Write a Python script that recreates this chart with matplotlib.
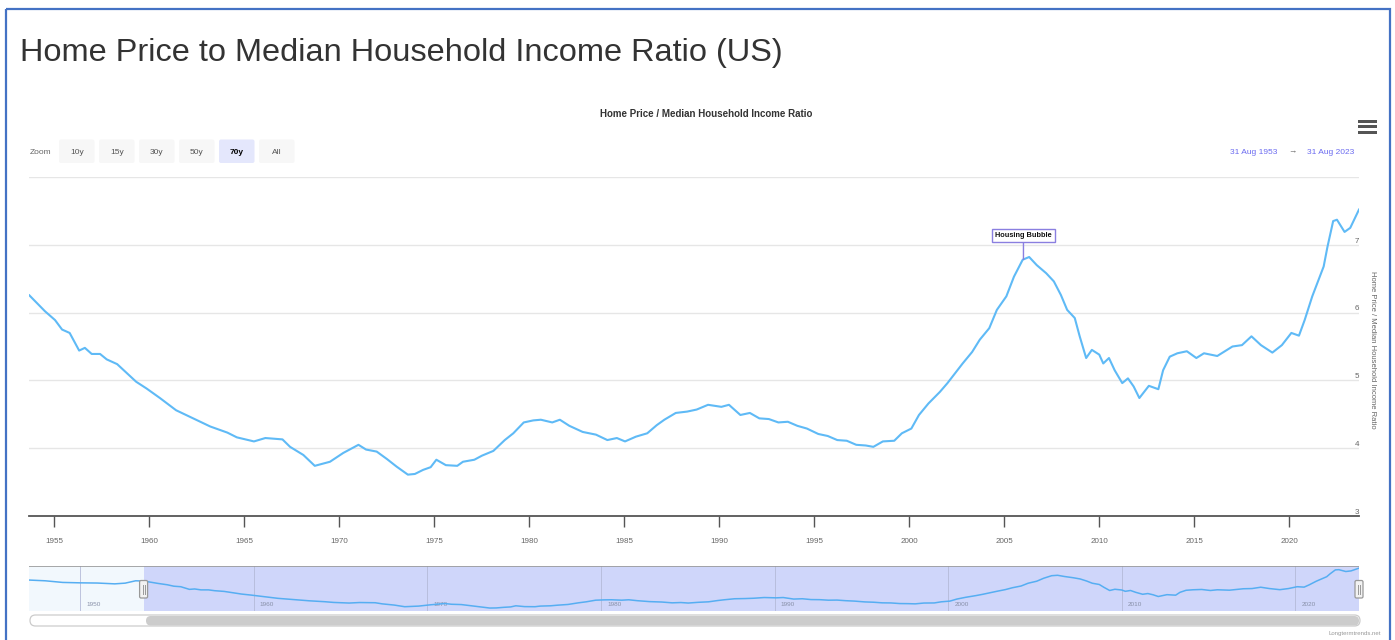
import numpy as np
import matplotlib
matplotlib.use("Agg")
import matplotlib.pyplot as plt
from matplotlib.patches import Rectangle, FancyBboxPatch
import matplotlib.transforms as mtransforms

plt.rcParams['font.family'] = ['Liberation Sans', 'DejaVu Sans']

# ---------------- data ----------------
years = [1947.1, 1948.0, 1949.0, 1950.0, 1951.0, 1952.0, 1952.6, 1953.2,
         1953.66, 1954.5, 1955.03, 1955.4, 1955.8, 1956.3, 1956.6, 1956.96, 1957.4, 1957.75,
         1958.3, 1958.8, 1959.3, 1959.85, 1960.55, 1961.4, 1962.3, 1963.2, 1964.1, 1964.6,
         1965.5, 1966.1, 1967.0, 1967.4, 1968.1, 1968.7, 1969.5, 1970.2, 1971.0, 1971.4,
         1971.96, 1972.5, 1973.0, 1973.6, 1973.97, 1974.4, 1974.8, 1975.1, 1975.6, 1976.2,
         1976.5, 1977.1, 1977.5, 1978.1, 1978.7, 1979.15, 1979.7, 1980.2, 1980.6, 1981.2,
         1981.6, 1982.1, 1982.8, 1983.5, 1984.1, 1984.6, 1985.03, 1985.6, 1986.2, 1986.7,
         1987.1, 1987.7, 1988.3, 1988.8, 1989.4, 1990.1, 1990.5, 1991.1, 1991.6, 1992.1,
         1992.6, 1993.1, 1993.6, 1994.1, 1994.6, 1995.2, 1995.7, 1996.2, 1996.7, 1997.2,
         1997.7, 1998.1, 1998.6, 1999.2, 1999.6, 2000.1, 2000.5, 2001.0, 2001.6, 2002.0,
         2002.8, 2003.3, 2003.7, 2004.2, 2004.6, 2005.1, 2005.5, 2005.96, 2006.3, 2006.7,
         2007.2, 2007.6, 2007.97, 2008.3, 2008.7, 2008.96, 2009.3, 2009.6, 2009.99, 2010.2,
         2010.5, 2010.8, 2011.2, 2011.5, 2011.8, 2012.1, 2012.6, 2013.1, 2013.35, 2013.7,
         2014.1, 2014.6, 2015.1, 2015.5, 2016.2, 2017.0, 2017.5, 2018.0, 2018.5, 2019.1,
         2019.6, 2020.1, 2020.5, 2020.8, 2021.2, 2021.8, 2022.0, 2022.3, 2022.5, 2022.9,
         2023.2, 2023.66]
ratio = [6.35, 6.28, 6.12, 6.08, 6.06, 5.98, 6.05, 6.28,
         6.26, 6.02, 5.89, 5.75, 5.70, 5.44, 5.48, 5.39, 5.39, 5.31,
         5.24, 5.11, 4.98, 4.88, 4.74, 4.56, 4.44, 4.32, 4.23, 4.16,
         4.10, 4.15, 4.13, 4.02, 3.90, 3.74, 3.80, 3.93, 4.05, 3.98,
         3.95, 3.84, 3.73, 3.61, 3.62, 3.68, 3.72, 3.83, 3.75, 3.74,
         3.80, 3.83, 3.89, 3.96, 4.12, 4.22, 4.38, 4.41, 4.42, 4.38,
         4.42, 4.33, 4.24, 4.20, 4.12, 4.15, 4.10, 4.17, 4.22, 4.34,
         4.42, 4.52, 4.54, 4.57, 4.64, 4.61, 4.64, 4.49, 4.52, 4.44,
         4.43, 4.38, 4.39, 4.33, 4.29, 4.21, 4.18, 4.12, 4.11, 4.05,
         4.04, 4.02, 4.10, 4.11, 4.22, 4.29, 4.49, 4.66, 4.83, 4.96,
         5.25, 5.42, 5.60, 5.77, 6.04, 6.24, 6.53, 6.78, 6.82, 6.70,
         6.58, 6.46, 6.26, 6.04, 5.92, 5.65, 5.33, 5.45, 5.38, 5.25,
         5.33, 5.15, 4.96, 5.03, 4.91, 4.74, 4.92, 4.87, 5.15, 5.35,
         5.40, 5.43, 5.33, 5.40, 5.36, 5.50, 5.52, 5.65, 5.52, 5.41,
         5.52, 5.70, 5.66, 5.89, 6.24, 6.68, 6.97, 7.35, 7.37, 7.19,
         7.25, 7.52]

view_start, view_end = 1953.66, 2023.66
nav_start = 1947.06
x_ticks = [1955, 1960, 1965, 1970, 1975, 1980, 1985, 1990, 1995, 2000, 2005, 2010, 2015, 2020]
y_ticks = [3, 4, 5, 6, 7, 8]
nav_ticks = [1950, 1960, 1970, 1980, 1990, 2000, 2010, 2020]
flag_year = 2006.0
flag_text = "Housing Bubble"
zoom_buttons = ["10y", "15y", "30y", "50y", "70y", "All"]
selected_button = "70y"

title = "Home Price to Median Household Income Ratio (US)"
chart_title = "Home Price / Median Household Income Ratio"
axis_title = "Home Price / Median Household Income Ratio"

LINE = '#5fbaf6'
W, H = 1395, 640

fig = plt.figure(figsize=(W / 100, H / 100), dpi=100)

# background / decoration axes in pixel coords
bg = fig.add_axes([0, 0, 1, 1])
bg.set_xlim(0, W)
bg.set_ylim(H, 0)
bg.axis('off')
bg.set_zorder(0)

bg.add_patch(Rectangle((6, 9), 1384, 700, fill=False, ec='#4472c4', lw=1.6))
bg.text(20, 61, title, fontsize=23.4, color='#333333', ha='left', va='baseline')
bg.text(706, 114, chart_title, fontsize=7, fontweight='bold', color='#333333',
        ha='center', va='center')

# hamburger menu
for yb in (119.5, 125, 130.5):
    bg.add_patch(Rectangle((1358, yb), 18.5, 3.2, color='#555555', lw=0))

# zoom buttons
bg.text(30, 152, "Zoom", fontsize=6, color='#666666', ha='left', va='center')
for i, lab in enumerate(zoom_buttons):
    x0 = 59 + i * 40
    sel = (lab == selected_button)
    bg.add_patch(FancyBboxPatch((x0, 139.5), 35.5, 23.5,
                                boxstyle='round,pad=0,rounding_size=2',
                                fc='#e4e7fc' if sel else '#f7f7f7', ec='none'))
    bg.text(x0 + 17.75, 152, lab, fontsize=6, ha='center', va='center',
            color='#000000' if sel else '#555555',
            fontweight='bold' if sel else 'normal')

# date range
bg.text(1254, 152, "31 Aug 1953", fontsize=6, color='#6b6bf0', ha='center', va='center')
bg.text(1292, 152, "\u2192", fontsize=6, color='#666666', ha='center', va='center')
bg.text(1331, 152, "31 Aug 2023", fontsize=6, color='#6b6bf0', ha='center', va='center')

# credits
bg.text(1381, 633, "Longtermtrends.net", fontsize=4.3, color='#999999', ha='right', va='center')

# scrollbar
bg.add_patch(FancyBboxPatch((30, 615), 1330, 11, boxstyle='round,pad=0,rounding_size=5.5',
                            fc='white', ec='#cccccc', lw=0.9))
bg.add_patch(FancyBboxPatch((146, 616), 1213, 9.5, boxstyle='round,pad=0,rounding_size=4.75',
                            fc='#cccccc', ec='none'))

# ---------------- main chart ----------------
ax = fig.add_axes([29 / W, 1 - 516 / H, 1330 / W, (516 - 177) / H])
ax.set_zorder(1)
ax.set_facecolor('none')
ax.plot(years, ratio, color=LINE, lw=1.5, solid_joinstyle='round', zorder=3)
ax.set_xlim(view_start, view_end)
ax.set_ylim(y_ticks[0], y_ticks[-1])
for s in ('top', 'left', 'right'):
    ax.spines[s].set_visible(False)
ax.spines['bottom'].set_color('#555555')
ax.spines['bottom'].set_linewidth(1.3)
ax.set_xticks(x_ticks)
ax.set_xticklabels([str(t) for t in x_ticks])
ax.tick_params(axis='x', direction='out', length=8, width=1, color='#555555',
               labelsize=5.8, labelcolor='#666666', pad=8)
ax.set_yticks(y_ticks)
ax.yaxis.set_ticks_position('none')
ax.set_yticklabels([])
ax.grid(axis='y', color='#e6e6e6', lw=1)
ax.set_axisbelow(True)
lab_tr = ax.get_yaxis_transform() + mtransforms.ScaledTranslation(0, 0.3 / 100, fig.dpi_scale_trans)
for v in y_ticks[:-1]:
    ax.text(1.0, v, str(v), transform=lab_tr, fontsize=5.8, color='#666666',
            ha='right', va='bottom')
ax.text(1.0105, 0.49, axis_title, transform=ax.transAxes, rotation=270,
        fontsize=5.5, color='#666666', ha='center', va='center')

# flag
fy_val = float(np.interp(flag_year, years, ratio))
ax.annotate(flag_text, xy=(flag_year, fy_val), xytext=(0, 24), textcoords='offset pixels',
            ha='center', va='center', fontsize=5.3, fontweight='bold', color='#111111',
            bbox=dict(boxstyle='square,pad=0.45', fc='white', ec='#8a7fe0', lw=1),
            arrowprops=dict(arrowstyle='-', color='#8a7fe0', lw=1, shrinkA=0, shrinkB=0),
            zorder=5)

# ---------------- navigator ----------------
nav = fig.add_axes([29 / W, 1 - 611 / H, 1330 / W, 45 / H])
nav.set_zorder(1)
nav.set_facecolor('none')
nav.set_xlim(nav_start, view_end)
nav.set_ylim(3.32, 7.73)
nav.axvspan(nav_start, view_start, color='#f2f8fd', lw=0, zorder=0)
nav.axvspan(view_start, view_end, color='#cfd6fa', lw=0, zorder=0)
for t in nav_ticks:
    nav.axvline(t, color='#b4bad8', lw=0.6, zorder=1)
    nav.text(t + 0.35, 0.15, str(t), transform=nav.get_xaxis_transform(),
             fontsize=4.6, color='#8890a8', ha='left', va='center')
nav.plot(years, ratio, color='#56aef2', lw=1.1, zorder=3)
nav.axhline(7.73, color='#999999', lw=1.2, zorder=4)
for s in nav.spines.values():
    s.set_visible(False)
nav.set_xticks([])
nav.set_yticks([])

# navigator handles on a top overlay
top = fig.add_axes([0, 0, 1, 1])
top.set_xlim(0, W)
top.set_ylim(H, 0)
top.axis('off')
top.set_zorder(5)
hx_px = [29 + (v - nav_start) / (view_end - nav_start) * 1330 for v in (view_start, view_end)]
for hp in hx_px:
    top.add_patch(FancyBboxPatch((hp - 4, 580.5), 8, 17.5, boxstyle='round,pad=0,rounding_size=1.5',
                                 fc='#f2f2f2', ec='#999999', lw=0.9))
    top.plot([hp - 1, hp - 1], [585, 593.5], color='#999999', lw=0.7)
    top.plot([hp + 1, hp + 1], [585, 593.5], color='#999999', lw=0.7)

fig.savefig('out.png', dpi=100)
